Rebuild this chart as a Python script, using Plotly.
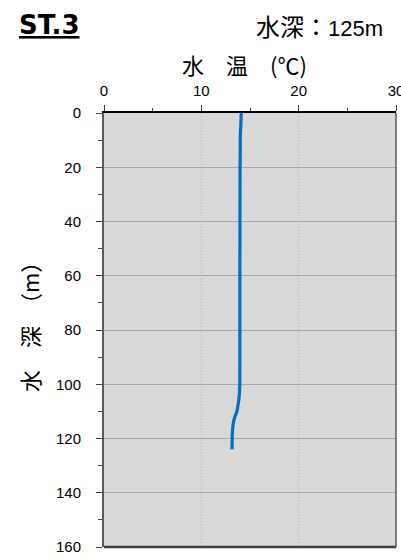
import plotly.graph_objects as go

depth = [0, 2, 5, 8, 12, 20, 40, 60, 80, 100, 104, 107, 110, 112, 114, 117, 120, 124]
temp = [14.1, 14.08, 14.05, 14.0, 14.0, 13.98, 13.97, 13.96, 13.96, 13.95, 13.9, 13.8, 13.65, 13.45, 13.3, 13.2, 13.17, 13.15]

x_ticks = [0, 10, 20, 30]
y_ticks = [0, 20, 40, 60, 80, 100, 120, 140, 160]

title_text = "<u><b>ST.3</b></u>"
depth_label = "水深："
depth_value = "125m"
x_title = "水　温　(℃)"
y_title = "水　深　（m）"

jp = "Noto Sans CJK JP"
num = "Liberation Sans"

fig = go.Figure()
fig.add_trace(go.Scatter(
    x=temp, y=depth, mode="lines",
    line=dict(color="#0070c0", width=3.2, shape="spline", smoothing=0.6),
    hoverinfo="skip", showlegend=False,
))

W, H = 401, 560
l, r, t, b = 104, 5, 113, 13

fig.update_layout(
    width=W, height=H, autosize=False,
    margin=dict(l=l, r=r, t=t, b=b, autoexpand=False),
    paper_bgcolor="white",
    plot_bgcolor="#d9d9d9",
    xaxis=dict(
        range=[0, 30], side="top", tickvals=x_ticks, automargin=False,
        ticks="outside", ticklen=6, tickcolor="#404040", tickwidth=1,
        minor=dict(dtick=5, ticks="outside", ticklen=3, tickcolor="#404040", showgrid=False),
        showline=True, linecolor="#000000", linewidth=1.5, mirror=False,
        showgrid=True, gridcolor="#b8b8b8", griddash="1px,2px", gridwidth=1,
        tickfont=dict(family=num, size=15, color="#000000"),
        ticklabelstandoff=3,
        ticklabeloverflow="allow", zeroline=False, fixedrange=True,
    ),
    yaxis=dict(
        range=[160, 0], tickvals=y_ticks, automargin=False,
        ticks="outside", ticklen=6, tickcolor="#404040", tickwidth=1,
        minor=dict(dtick=10, ticks="outside", ticklen=4, tickcolor="#404040", showgrid=False),
        showline=True, linecolor="#595959", linewidth=2, mirror=False,
        showgrid=True, gridcolor="#a6a6a6", gridwidth=1.2,
        tickfont=dict(family=num, size=15, color="#000000"),
        ticklabelstandoff=12,
        ticklabeloverflow="allow", zeroline=False, fixedrange=True,
    ),
    shapes=[
        dict(type="line", xref="paper", yref="paper", x0=0, x1=1, y0=0, y1=0,
             line=dict(color="#404040", width=2.5)),
        dict(type="line", xref="paper", yref="paper", x0=1, x1=1, y0=0, y1=1,
             line=dict(color="#595959", width=1.5)),
    ],
)

pw, ph = W - l - r, H - t - b


def px(x, y):
    return (x - l) / pw, (H - b - y) / ph


depth_text = (depth_label +
              "<span style='font-family:Liberation Sans;font-size:22px'>" +
              depth_value + "</span>")

anns = [
    (title_text, 17, 25, "left", 0, dict(family="DejaVu Sans", size=26, color="#000000")),
    (depth_text, 385, 25, "right", 0, dict(family=jp, size=24, color="#000000")),
    (x_title, 244, 64, "center", 0, dict(family=jp, size=22, color="#000000")),
    (y_title, 29, 321, "center", -90, dict(family=jp, size=22, color="#000000")),
]
for text, x, y, xa, ang, font in anns:
    xp, yp = px(x, y)
    fig.add_annotation(text=text, x=xp, y=yp, xref="paper", yref="paper",
                       showarrow=False, xanchor=xa, yanchor="middle",
                       textangle=ang, font=font)

fig.write_html("out.html", config={"displayModeBar": False},
               post_script="document.body.style.margin='0';")
